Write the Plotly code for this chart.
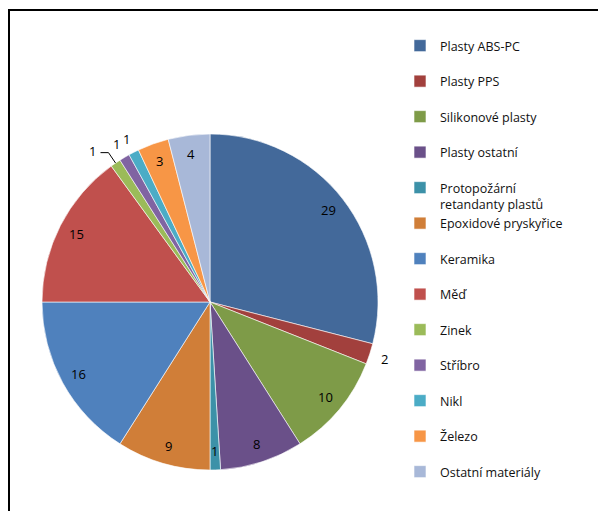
import math
import plotly.graph_objects as go

# Material categories and their counts
categories = [
    "Plasty ABS-PC", "Plasty PPS", "Silikonové plasty", "Plasty ostatní",
    "Protopožární<br>retandanty plastů", "Epoxidové pryskyřice", "Keramika",
    "Měď", "Zinek", "Stříbro", "Nikl", "Železo", "Ostatní materiály",
]
values = [29, 2, 10, 8, 1, 9, 16, 15, 1, 1, 1, 3, 4]

colors = [
    "#43699A", "#A2403D", "#7E9B48", "#6A5089", "#3C91A8", "#D07E38",
    "#4F81BD", "#C0504D", "#9BBB59", "#8064A2", "#4BACC6", "#F79646", "#A8B8D8",
]

# slices whose value label sits outside the pie
outside = {1, 9, 10}
leader = {8}

W, H = 598, 511
CX, CY, R = 210, 302, 168
FONT = "Open Sans"

fig = go.Figure()
fig.add_trace(go.Pie(
    labels=[c + ("" if "<br>" in c else "<br> ") for c in categories],
    values=values,
    sort=False,
    direction="clockwise",
    rotation=0,
    textinfo="none",
    hoverinfo="label+value",
    marker=dict(colors=colors, line=dict(color="white", width=0.6)),
    domain=dict(x=[(CX - R) / W, (CX + R) / W], y=[1 - (CY + R) / H, 1 - (CY - R) / H]),
))


def to_paper(px, py):
    return px / W, 1 - py / H


total = sum(values)
annotations = []
shapes = []
cum = 0
for i, v in enumerate(values):
    mid = (cum + v / 2) / total * 2 * math.pi
    cum += v
    s, c = math.sin(mid), math.cos(mid)
    if i in leader:
        # elbow leader line from pie edge out to the label
        ex, ey = CX + R * s, CY - R * c
        bx, by = CX + 1.075 * R * s, CY - 1.075 * R * c
        hx, hy = bx - 8, by
        shapes.append(dict(
            type="path", xref="paper", yref="paper",
            path="M{},{} L{},{} L{},{}".format(*to_paper(ex, ey), *to_paper(bx, by), *to_paper(hx, hy)),
            line=dict(color="black", width=1),
        ))
        x, y = to_paper(hx - 2, hy - 2)
        annotations.append(dict(x=x, y=y, xref="paper", yref="paper", text=str(v),
                                showarrow=False, xanchor="right", yanchor="middle",
                                font=dict(family=FONT, size=13, color="black")))
        continue
    rf = 1.09 if i in outside else 0.89
    x, y = to_paper(CX + rf * R * s, CY - rf * R * c)
    annotations.append(dict(x=x, y=y, xref="paper", yref="paper", text=str(v),
                            showarrow=False, xanchor="center", yanchor="middle",
                            font=dict(family=FONT, size=13, color="black")))

# chart area frame
shapes.append(dict(type="rect", xref="paper", yref="paper",
                   x0=9 / W, x1=1.05, y0=-0.05, y1=1 - 10 / H,
                   line=dict(color="black", width=2), fillcolor="rgba(0,0,0,0)"))

fig.update_layout(
    width=W, height=H,
    margin=dict(l=0, r=0, t=0, b=0),
    paper_bgcolor="white",
    plot_bgcolor="white",
    font=dict(family=FONT, size=12.5, color="#111111"),
    showlegend=True,
    legend=dict(
        x=400 / W, y=1 - 31 / H, xanchor="left", yanchor="top",
        valign="top", itemwidth=30,
        font=dict(family=FONT, size=12.5, color="#111111"),
        bgcolor="rgba(0,0,0,0)",
    ),
    annotations=annotations,
    shapes=shapes,
)

fig.write_html("out.html")
